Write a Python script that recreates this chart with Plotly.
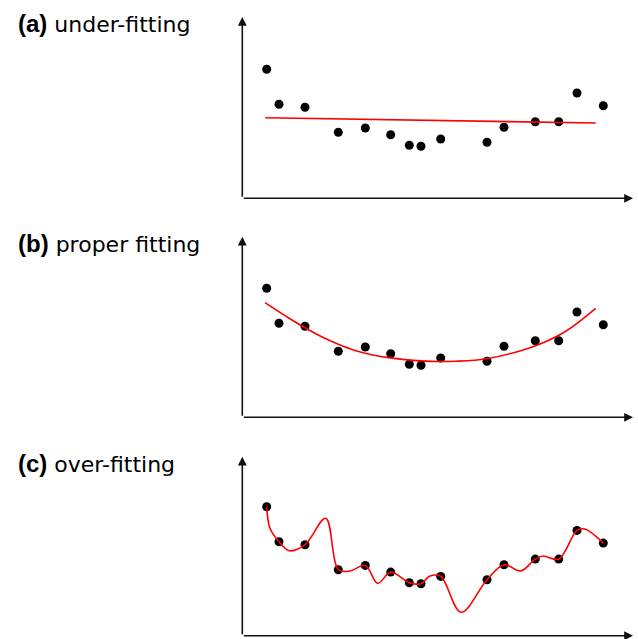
import plotly.graph_objects as go

# ---- data ----
x_pts = [2.44, 3.67, 6.27, 9.6, 12.3, 14.84, 16.7, 17.87, 19.84, 24.47, 26.17, 29.3, 31.64, 33.47, 36.1]
y_pts = [12.9, 9.4, 9.1, 6.6, 7.03, 6.36, 5.3, 5.2, 5.93, 5.6, 7.1, 7.66, 7.66, 10.53, 9.26]

under_x = [2.30, 35.34]
under_y = [8.06, 7.53]

proper_x = [2.27, 4.6, 6.27, 7.94, 9.6, 11.27, 12.94, 14.6, 16.27, 17.94, 19.6, 21.27,
            24.44, 28.77, 32.1, 35.34]
proper_y = [11.46, 9.95, 8.95, 8.05, 7.3, 6.68, 6.26, 5.97, 5.77, 5.64, 5.58, 5.6,
            5.86, 6.96, 8.46, 10.9]

over_x = [2.44, 2.77, 3.67, 4.70, 6.27, 8.34, 9.6, 10.77, 12.3, 13.54, 14.84, 16.7, 17.87,
          18.77, 19.84, 21.87, 24.47, 26.17, 27.84, 29.3, 30.1, 31.64, 33.47, 34.27, 36.1]
over_y = [12.9, 10.74, 9.4, 8.5, 9.1, 11.74, 6.6, 6.47, 7.03, 5.24, 6.36, 5.3, 5.2,
          5.97, 5.94, 2.34, 5.6, 7.1, 6.47, 7.66, 7.97, 7.66, 10.53, 10.67, 9.26]

panel_labels = ["(a)", "(b)", "(c)"]
panel_titles = ["under-fitting", "proper fitting", "over-fitting"]
fits = [(under_x, under_y, "linear"), (proper_x, proper_y, "spline"), (over_x, over_y, "spline")]

# ---- layout geometry (pixels) ----
W, H = 638, 639
x_left, x_tip = 242.3, 633.0
panels = [(198.3, 17.0), (417.3, 236.7), (635.7, 456.7)]  # (x-axis y, arrow-top y)
title_y = [24, 244, 463]

fig = go.Figure()
layout = dict(width=W, height=H, margin=dict(l=0, r=0, t=0, b=0),
              plot_bgcolor="white", paper_bgcolor="white", showlegend=False)
annotations = []
xr = (x_tip - x_left) / 10.0

for i, ((base, top), (fx, fy, shape)) in enumerate(zip(panels, fits)):
    n = "" if i == 0 else str(i + 1)
    xa, ya = "x" + n, "y" + n
    yr = (base - top) / 10.0
    layout["xaxis" + n] = dict(domain=[x_left / W, x_tip / W], range=[0, xr], visible=False,
                               fixedrange=True, anchor=ya)
    layout["yaxis" + n] = dict(domain=[1 - base / H, 1 - top / H], range=[0, yr], visible=False,
                               anchor=xa, fixedrange=True)

    fig.add_trace(go.Scatter(x=x_pts, y=y_pts, mode="markers", xaxis=xa, yaxis=ya,
                             marker=dict(color="black", size=9), cliponaxis=False))
    fig.add_trace(go.Scatter(x=fx, y=fy, mode="lines", xaxis=xa, yaxis=ya,
                             line=dict(color="#ff0000", width=1.6, shape=shape, smoothing=1.0),
                             cliponaxis=False))
    # axis arrows
    for (tx, ty) in [(0, yr), (xr, 0)]:
        annotations.append(dict(x=tx, y=ty, ax=0, ay=0, xref=xa, yref=ya, axref=xa, ayref=ya,
                                showarrow=True, arrowhead=2, arrowsize=1.1, arrowwidth=1.6,
                                arrowcolor="#111111", text=""))
    annotations.append(dict(x=16 / W, y=1 - title_y[i] / H, xref="paper", yref="paper",
                            xanchor="left", yanchor="middle", showarrow=False,
                            text=("<span style='font-family:Liberation Sans;font-size:24px'><b>"
                                  + panel_labels[i] + "</b></span> " + panel_titles[i]),
                            font=dict(family="DejaVu Sans", size=22, color="black")))

layout["annotations"] = annotations
fig.update_layout(**layout)
fig.write_html("out.html")
